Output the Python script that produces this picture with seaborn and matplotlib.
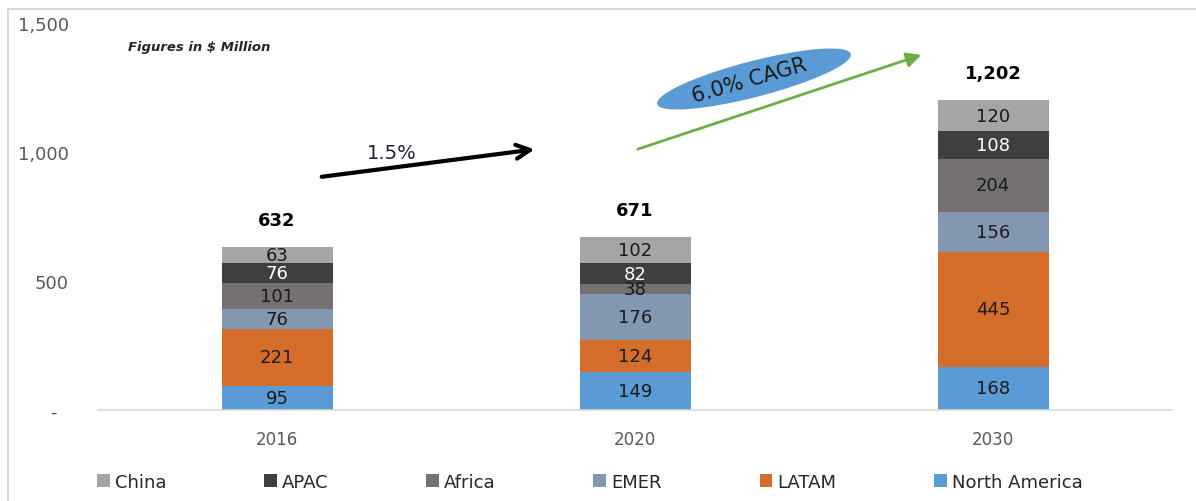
import pandas as pd
import matplotlib.pyplot as plt
import seaborn as sns
from matplotlib.patches import Ellipse, Rectangle

sns.set_theme(style="white")
plt.rcParams['font.family'] = ['DejaVu Sans']

# Data (stack order bottom -> top)
years = ['2016', '2020', '2030']
regions = ['North America', 'LATAM', 'EMER', 'Africa', 'APAC', 'China']
north_america = [95, 149, 168]
latam = [221, 124, 445]
emer = [76, 176, 156]
africa = [101, 38, 204]
apac = [76, 82, 108]
china = [63, 102, 120]
total_labels = ['632', '671', '1,202']

colors = {'North America': '#5B9BD5', 'LATAM': '#D46C2A', 'EMER': '#8497B0',
          'Africa': '#767171', 'APAC': '#3F3F3F', 'China': '#A5A5A5'}
label_colors = {'APAC': 'white'}

df = pd.DataFrame({'year': years, 'North America': north_america, 'LATAM': latam,
                   'EMER': emer, 'Africa': africa, 'APAC': apac, 'China': china})
cum = df[regions].cumsum(axis=1)

fig = plt.figure(figsize=(11.96, 5.02), dpi=100)
ax = fig.add_axes([0.082, 0.181, 0.898, 0.771])

# light frame round the chart
fig.patches.append(Rectangle((8 / 1196, -0.1), 1.2, 1 - 10 / 502 + 0.1, transform=fig.transFigure,
                             fill=False, edgecolor='#D9D9D9', linewidth=1.5))

# stacked bars: draw cumulative heights from top layer down
for r in reversed(regions):
    sns.barplot(x=df['year'], y=cum[r], color=colors[r], saturation=1, width=0.31,
                linewidth=0, label=r, ax=ax)

# segment labels
for i in range(len(years)):
    for r in regions:
        v = df.loc[i, r]
        ax.text(i, cum.loc[i, r] - v / 2, str(v), ha='center', va='center', fontsize=13,
                color=label_colors.get(r, '#1a1a1a'))
    ax.annotate(total_labels[i], (i, cum.loc[i, 'China']), xytext=(0, 13), textcoords='offset points',
                ha='center', va='bottom', fontsize=13, fontweight='bold', color='black')

ax.set_ylim(0, 1500)
ax.set_xlim(-0.5, 2.5)
ax.set_yticks([0, 500, 1000, 1500])
ax.set_yticklabels(['-  ', '500', '1,000', '1,500'])
ax.tick_params(axis='y', length=0, pad=21, labelsize=13, labelcolor='#595959')
ax.tick_params(axis='x', length=0, pad=14, labelsize=12, labelcolor='#595959')
ax.set_xlabel('')
ax.set_ylabel('')
for s in ['left', 'right', 'top']:
    ax.spines[s].set_visible(False)
ax.spines['bottom'].set_color('#D9D9D9')
ax.spines['bottom'].set_linewidth(1.2)

# note
fig.text(128 / 1196, 1 - 48 / 502, 'Figures in $ Million', fontsize=9.5, fontweight='bold',
         fontstyle='italic', va='center', ha='left')

# growth arrows
ax.annotate('', xy=(0.727, 1012), xytext=(0.117, 903),
            arrowprops=dict(arrowstyle='->', color='black', lw=3, mutation_scale=25))
ax.text(0.32, 1000, '1.5%', fontsize=14, color='#1F1F3F', ha='center', va='center')
ax.annotate('', xy=(1.807, 1380), xytext=(1.0, 1008),
            arrowprops=dict(arrowstyle='-|>', color='#70AD47', lw=2, mutation_scale=22))
fig.patches.append(Ellipse((7.54, 4.22), 2.0, 0.36, angle=14.5, transform=fig.dpi_scale_trans,
                           facecolor='#5B9BD5', edgecolor='none'))
fig.text(7.49 * 100 / 1196, 4.21 / 5.02, '6.0% CAGR', fontsize=15, rotation=16,
         ha='center', va='center', color='#1a1a1a', rotation_mode='anchor')

ax.legend(loc='center', bbox_to_anchor=(0.458, -0.185), ncol=6, frameon=False, fontsize=13,
          handlelength=0.7, handleheight=0.7, handletextpad=0.3, columnspacing=5.4)

fig.savefig('out.png', dpi=100)
